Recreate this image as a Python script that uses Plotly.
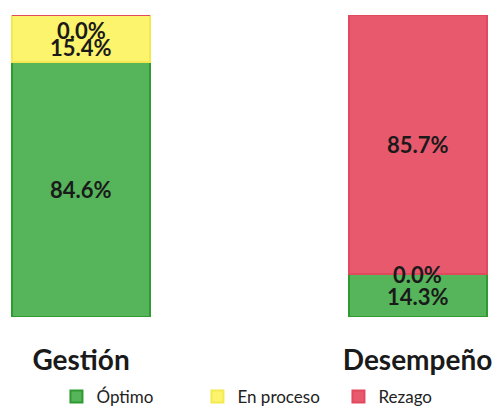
import plotly.graph_objects as go

categories = ["Gestión", "Desempeño"]
series_names = ["Óptimo", "En proceso", "Rezago"]
optimo = [84.6, 14.3]
en_proceso = [15.4, 0.0]
rezago = [0.0, 85.7]
colors = ["#56b45a", "#fcf46c", "#e8596d"]
borders = ["#2e9a30", "#f2ea50", "#e04a5e"]

values = [optimo, en_proceso, rezago]
FONT = "Lato"

fig = go.Figure()
for name, vals, c, b in zip(series_names, values, colors, borders):
    fig.add_trace(go.Bar(
        x=[0, 1], y=vals, name=name, width=0.41,
        marker=dict(color=c, line=dict(color=b, width=2)),
    ))

# value labels
label_shift = {(0, 2): -15, (0, 1): -9, (1, 0): -1, (1, 1): -1}
for ci in range(len(categories)):
    base = 0.0
    for si, vals in enumerate(values):
        v = vals[ci]
        ypos = base + v / 2
        fig.add_annotation(
            x=ci, y=ypos, text=f"<b>{v:.1f}%</b>", showarrow=False,
            font=dict(family=FONT, size=22, color="#1a1a1a"),
            yshift=label_shift.get((ci, si), 0),
        )
        base += v

fig.update_layout(
    width=504, height=407,
    margin=dict(l=0, r=0, t=15, b=90, autoexpand=False),
    barmode="stack",
    plot_bgcolor="white", paper_bgcolor="white",
    bargap=0,
    xaxis=dict(
        range=[-0.241, 1.257], tickmode="array", tickvals=[0, 1],
        ticktext=[f"<b>{c}</b>" for c in categories],
        tickfont=dict(family=FONT, size=28, color="#1a1a1a"),
        showgrid=False, zeroline=False, showline=False, ticks="",
        ticklabelstandoff=24, automargin=False,
    ),
    yaxis=dict(range=[0, 100], visible=False),
    showlegend=True,
    legend=dict(
        orientation="h", x=0.112, xanchor="left",
        yref="container", y=0.025, yanchor="middle",
        font=dict(family=FONT, size=17, color="#222222"),
        traceorder="normal", bgcolor="rgba(0,0,0,0)",
        entrywidth=96, entrywidthmode="pixels",
    ),
)

fig.write_html("out.html", post_script="document.body.style.margin='0';",
               config={"displayModeBar": False})
